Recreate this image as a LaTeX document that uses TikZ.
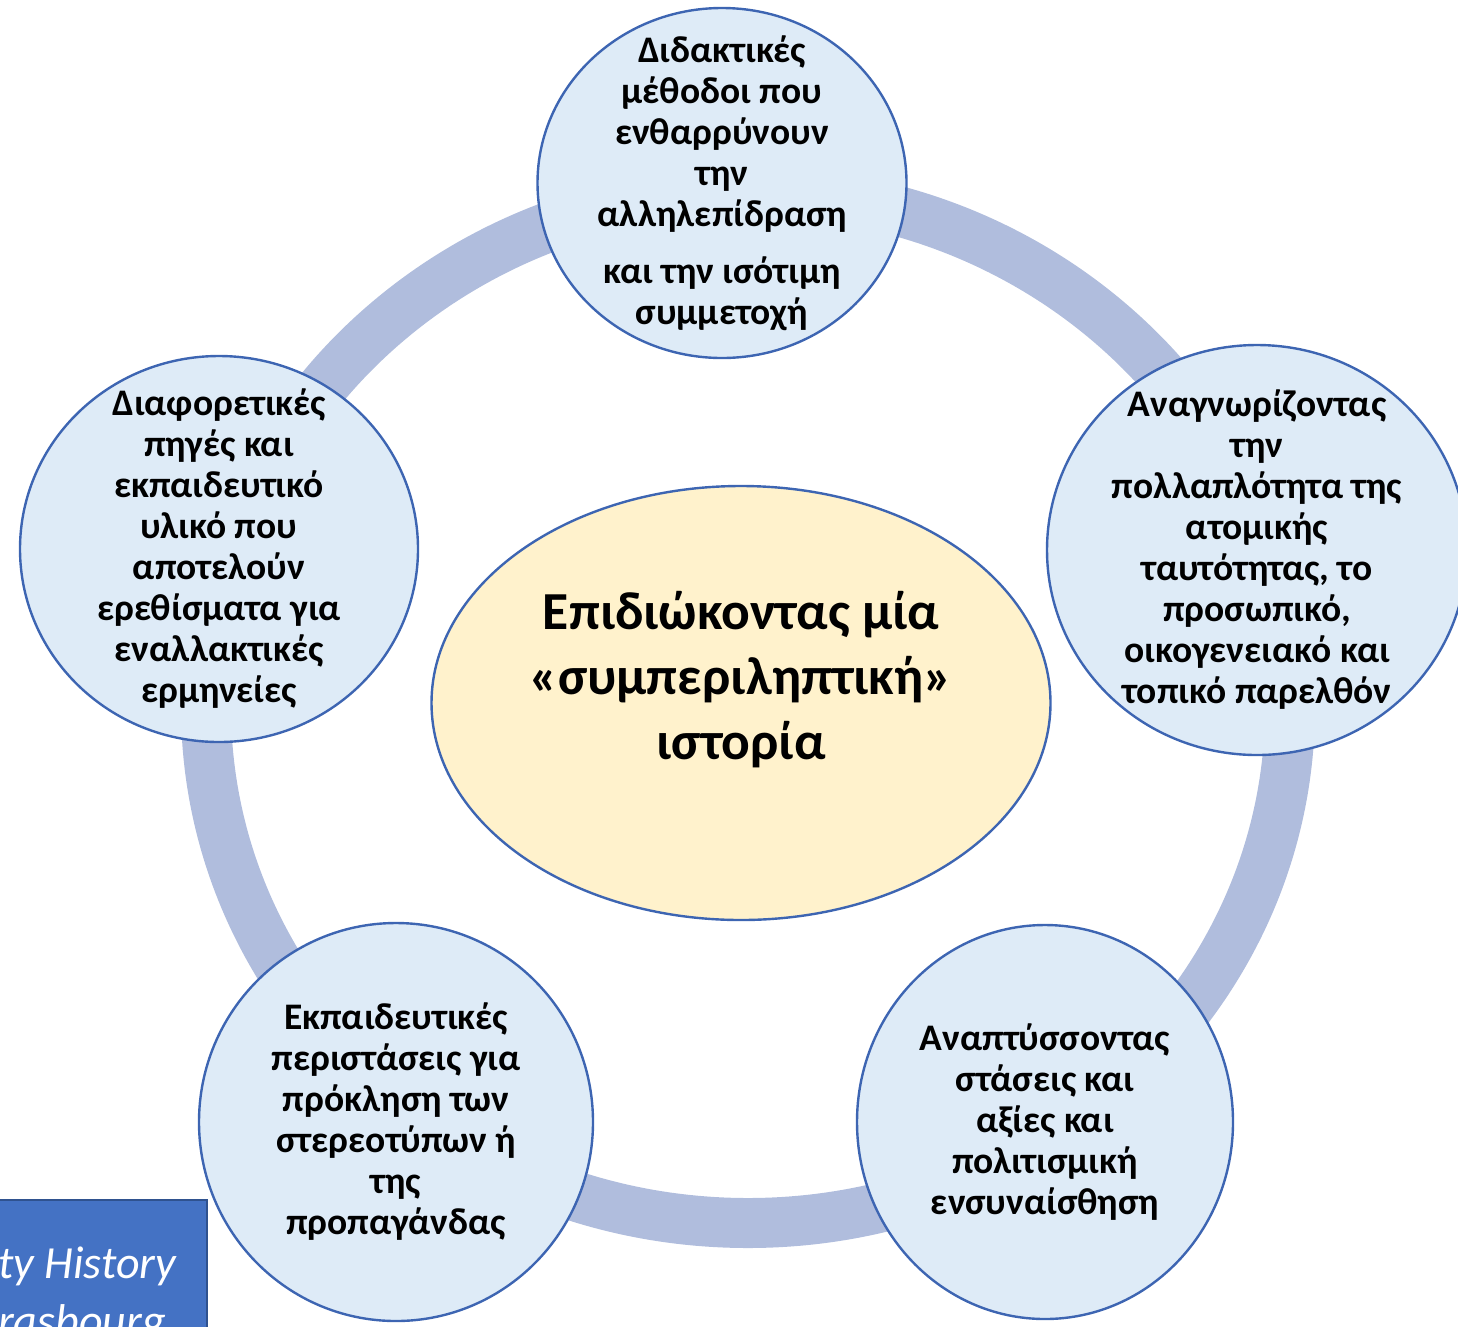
\documentclass[tikz,border=0pt]{standalone}
\usepackage{fontspec}
\setmainfont{Carlito}
\usepackage{tikz}
\definecolor{ringblue}{RGB}{176, 189, 221}
\definecolor{bubblefill}{RGB}{222, 235, 247}
\definecolor{bubbleedge}{RGB}{61, 101, 178}
\definecolor{centrefill}{RGB}{255, 242, 204}
\definecolor{boxblue}{RGB}{68, 114, 196}
\definecolor{boxedge}{RGB}{47, 82, 143}
\usetikzlibrary{
  calc,
  positioning,
  shapes.geometric,
}
\tikzset{
  bubble/.style={ellipse, draw=bubbleedge, fill=bubblefill, line width=2.4pt,
    inner sep=0pt},
  bubbletext/.style={align=center, inner sep=0pt,
    font=\fontsize{37.5}{41}\selectfont\bfseries},
  goaltext/.style={align=center, inner sep=0pt,
    font=\fontsize{53.5}{65}\selectfont\bfseries},
}

\begin{document}
\begin{tikzpicture}[x=1pt, y=-1pt]
      \useasboundingbox (0,0) rectangle (1458,1326);
      \clip (0,0) rectangle (1458,1326);
      \coordinate (hub) at (748,707);
      \draw [ringblue, line width=50pt] (hub) ellipse [x radius=542, y radius=516];

      \node [bubble, minimum width=369, minimum height=350] at (722,183)
            (methods) {};
      \node [bubbletext] at (methods.center) (methods text)
            {Διδακτικές\\μέθοδοι που\\ενθαρρύνουν\\την\\αλληλεπίδραση\\[16pt]%
             και την ισότιμη\\συμμετοχή};
      \node [bubble, minimum width=420, minimum height=410] at (1257,550)
            (identity) {};
      \node [bubbletext] at (identity.center) (identity text)
            {Αναγνωρίζοντας\\την\\πολλαπλότητα της\\ατομικής\\ταυτότητας, το\\%
             προσωπικό,\\οικογενειακό και\\τοπικό παρελθόν};
      \node [bubble, minimum width=376, minimum height=394] at (1045,1122)
            (attitudes) {};
      \node [bubbletext] at (attitudes.center) (attitudes text)
            {Αναπτύσσοντας\\στάσεις και\\αξίες και\\πολιτισμική\\ενσυναίσθηση};
      \node [bubble, minimum width=394, minimum height=398] at (396,1122)
            (stereotypes) {};
      \node [bubbletext] at (stereotypes.center) (stereotypes text)
            {Εκπαιδευτικές\\περιστάσεις για\\πρόκληση των\\στερεοτύπων ή\\της\\%
             προπαγάνδας};
      \node [bubble, minimum width=398, minimum height=386] at (219,549)
            (sources) {};
      \node [bubbletext] at (sources.center) (sources text)
            {Διαφορετικές\\πηγές και\\εκπαιδευτικό\\υλικό που\\αποτελούν\\%
             ερεθίσματα για\\εναλλακτικές\\ερμηνείες};

      \node [bubble, fill=centrefill, minimum width=619, minimum height=434]
            at (741,703) (goal) {};
      \node [goaltext] at ($(goal.center) + (0,-23)$) (goal text)
            {Επιδιώκοντας μία\\«συμπεριληπτική»\\ιστορία};

      \draw [fill=boxblue, draw=boxedge, line width=2pt] (-10,1200) rectangle (207,1340);
      \node [white, align=left, inner sep=0pt, anchor=base west,
             font=\fontsize{46}{58}\selectfont\itshape] at (-2,1336)
            (source) {ty History\\rasbourg};
    \end{tikzpicture}
\end{document}
